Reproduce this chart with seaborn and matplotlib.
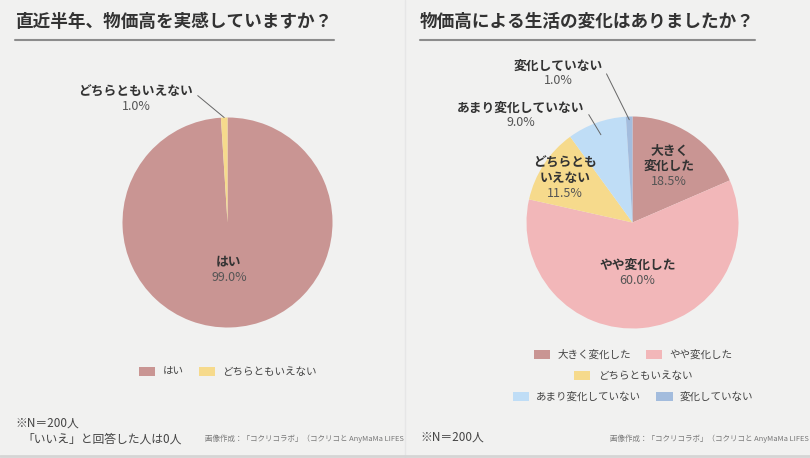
import matplotlib
matplotlib.use("Agg")

import matplotlib.pyplot as plt
import numpy as np
import seaborn as sns
from matplotlib.lines import Line2D
from matplotlib.patches import Patch

# ── Data ────────────────────────────────────────────────────────
q1_title = "直近半年、物価高を実感していますか？"
q1_labels = ["はい", "どちらともいえない"]
q1_values = [99.0, 1.0]

q2_title = "物価高による生活の変化はありましたか？"
q2_labels = ["大きく変化した", "やや変化した", "どちらともいえない",
             "あまり変化していない", "変化していない"]
q2_wedge_text = ["大きく\n変化した", "やや変化した", "どちらとも\nいえない",
                 "あまり変化していない", "変化していない"]
q2_values = [18.5, 60.0, 11.5, 9.0, 1.0]

q1_colors = ["#c99593", "#f6da8c"]
q2_colors = ["#c99593", "#f2b7b9", "#f6da8c", "#bfddf6", "#a3bcdd"]

W, H = 810, 458
BG = "#f1f1f0"
DARK = "#333333"
GRAY = "#555555"

sns.set_theme(style="white")
plt.rcParams["font.family"] = ["Noto Sans CJK JP", "DejaVu Sans"]


def fx(x):
    return x / W


def fy(y):
    return 1 - y / H


def mid_angles(values):
    total = sum(values)
    cum = np.concatenate([[0], np.cumsum(values)])
    return [np.deg2rad(90 - 360 * (cum[i] + values[i] / 2) / total)
            for i in range(len(values))]


def draw_pie(fig, cx, cy, r, values, colors):
    ax = fig.add_axes([fx(cx - r), fy(cy + r), 2 * r / W, 2 * r / H])
    ax.pie(values, colors=colors, startangle=90, counterclock=False,
           wedgeprops={"linewidth": 0})
    ax.set_xlim(-1, 1)
    ax.set_ylim(-1, 1)
    ax.set_axis_off()
    return ax


def inside_label(fig, cx, cy, r, ang, frac, name, value):
    lines = name.split("\n")
    px = cx + r * frac * np.cos(ang)
    py = cy - r * frac * np.sin(ang)
    n = len(lines) + 1
    top = py - 15 * (n - 1) / 2
    for i, ln in enumerate(lines):
        fig.text(fx(px), fy(top + 15 * i), ln, ha="center", va="center",
                 fontsize=9.2, fontweight="bold", color=DARK)
    fig.text(fx(px), fy(top + 15 * (n - 1)), f"{value:.1f}%", ha="center",
             va="center", fontsize=9, color=GRAY)


def outside_label(fig, ax, ang, rfrac, tx, ty, name, value):
    ax.annotate(name, xy=(rfrac * np.cos(ang), rfrac * np.sin(ang)),
                xycoords="data", xytext=(fx(tx), fy(ty)),
                textcoords="figure fraction", ha="center", va="center",
                fontsize=9.2, fontweight="bold", color=DARK,
                arrowprops=dict(arrowstyle="-", color="#666666", lw=0.7,
                                relpos=(1, 0.5), shrinkA=1, shrinkB=0))
    fig.text(fx(tx), fy(ty + 15), f"{value:.1f}%", ha="center", va="center",
             fontsize=9, color=GRAY)


def legend_row(fig, labels, colors, x, y):
    handles = [Patch(facecolor=c, edgecolor="none") for c in colors]
    fig.legend(handles, labels, loc="center", bbox_to_anchor=(fx(x), fy(y)),
               ncol=len(labels), frameon=False, fontsize=7.6,
               labelcolor="#444444", handlelength=1.55, handleheight=1.0,
               handletextpad=0.7, columnspacing=1.4, borderpad=0)


fig = plt.figure(figsize=(W / 100, H / 100), dpi=100, facecolor=BG)

fig.add_artist(Line2D([fx(405), fx(405)], [0, 1], color="#e6e6e6", lw=1))
fig.add_artist(Line2D([0, 1], [fy(456), fy(456)], color="#d5d5d5", lw=2))

# titles
for x0, x1, title in [(15, 334, q1_title), (420, 755, q2_title)]:
    fig.text(fx(x0), fy(22), title, ha="left", va="center", fontsize=12.7,
             fontweight="bold", color=DARK)
    fig.add_artist(Line2D([fx(x0), fx(x1)], [fy(40), fy(40)],
                          color="#8c8c8c", lw=1.5))

# ── Left pie ────────────────────────────────────────────────────
lcx, lcy, lr = 227.5, 222.5, 105
ax1 = draw_pie(fig, lcx, lcy, lr, q1_values, q1_colors)
a1 = mid_angles(q1_values)
inside_label(fig, lcx, lcy, lr, a1[0], 0.45, q1_labels[0], q1_values[0])
outside_label(fig, ax1, a1[1], 1.0, 136, 92, q1_labels[1], q1_values[1])
legend_row(fig, q1_labels, q1_colors, 228, 372)

# ── Right pie ───────────────────────────────────────────────────
rcx, rcy, rr = 632.5, 222.5, 106
ax2 = draw_pie(fig, rcx, rcy, rr, q2_values, q2_colors)
a2 = mid_angles(q2_values)
inside_label(fig, rcx, rcy, rr, a2[0], 0.63, q2_wedge_text[0], q2_values[0])
inside_label(fig, rcx, rcy, rr, a2[1], 0.48, q2_wedge_text[1], q2_values[1])
inside_label(fig, rcx, rcy, rr, a2[2], 0.76, q2_wedge_text[2], q2_values[2])
outside_label(fig, ax2, a2[3], 0.88, 521, 108, q2_wedge_text[3], q2_values[3])
outside_label(fig, ax2, a2[4], 0.97, 558, 66, q2_wedge_text[4], q2_values[4])

legend_row(fig, q2_labels[:2], q2_colors[:2], 633, 355)
legend_row(fig, q2_labels[2:3], q2_colors[2:3], 633, 376)
legend_row(fig, q2_labels[3:], q2_colors[3:], 633, 397)

# ── Footnotes ───────────────────────────────────────────────────
fig.text(fx(15), fy(423), "※N＝200人", ha="left", va="center",
         fontsize=8.5, color="#444444")
fig.text(fx(22), fy(439), "「いいえ」と回答した人は0人", ha="left",
         va="center", fontsize=8.5, color="#444444")
fig.text(fx(420), fy(437), "※N＝200人", ha="left", va="center",
         fontsize=8.5, color="#444444")

# credit line is cut at each panel's right edge in the source image
credit = "画像作成：「コクリコラボ」（コクリコと AnyMaMa LIFES"
for x1 in [404, 809]:
    fig.text(fx(x1), fy(439), credit, ha="right", va="center",
             fontsize=5.4, color="#777777")

fig.savefig("out.png", dpi=100, facecolor=BG)
